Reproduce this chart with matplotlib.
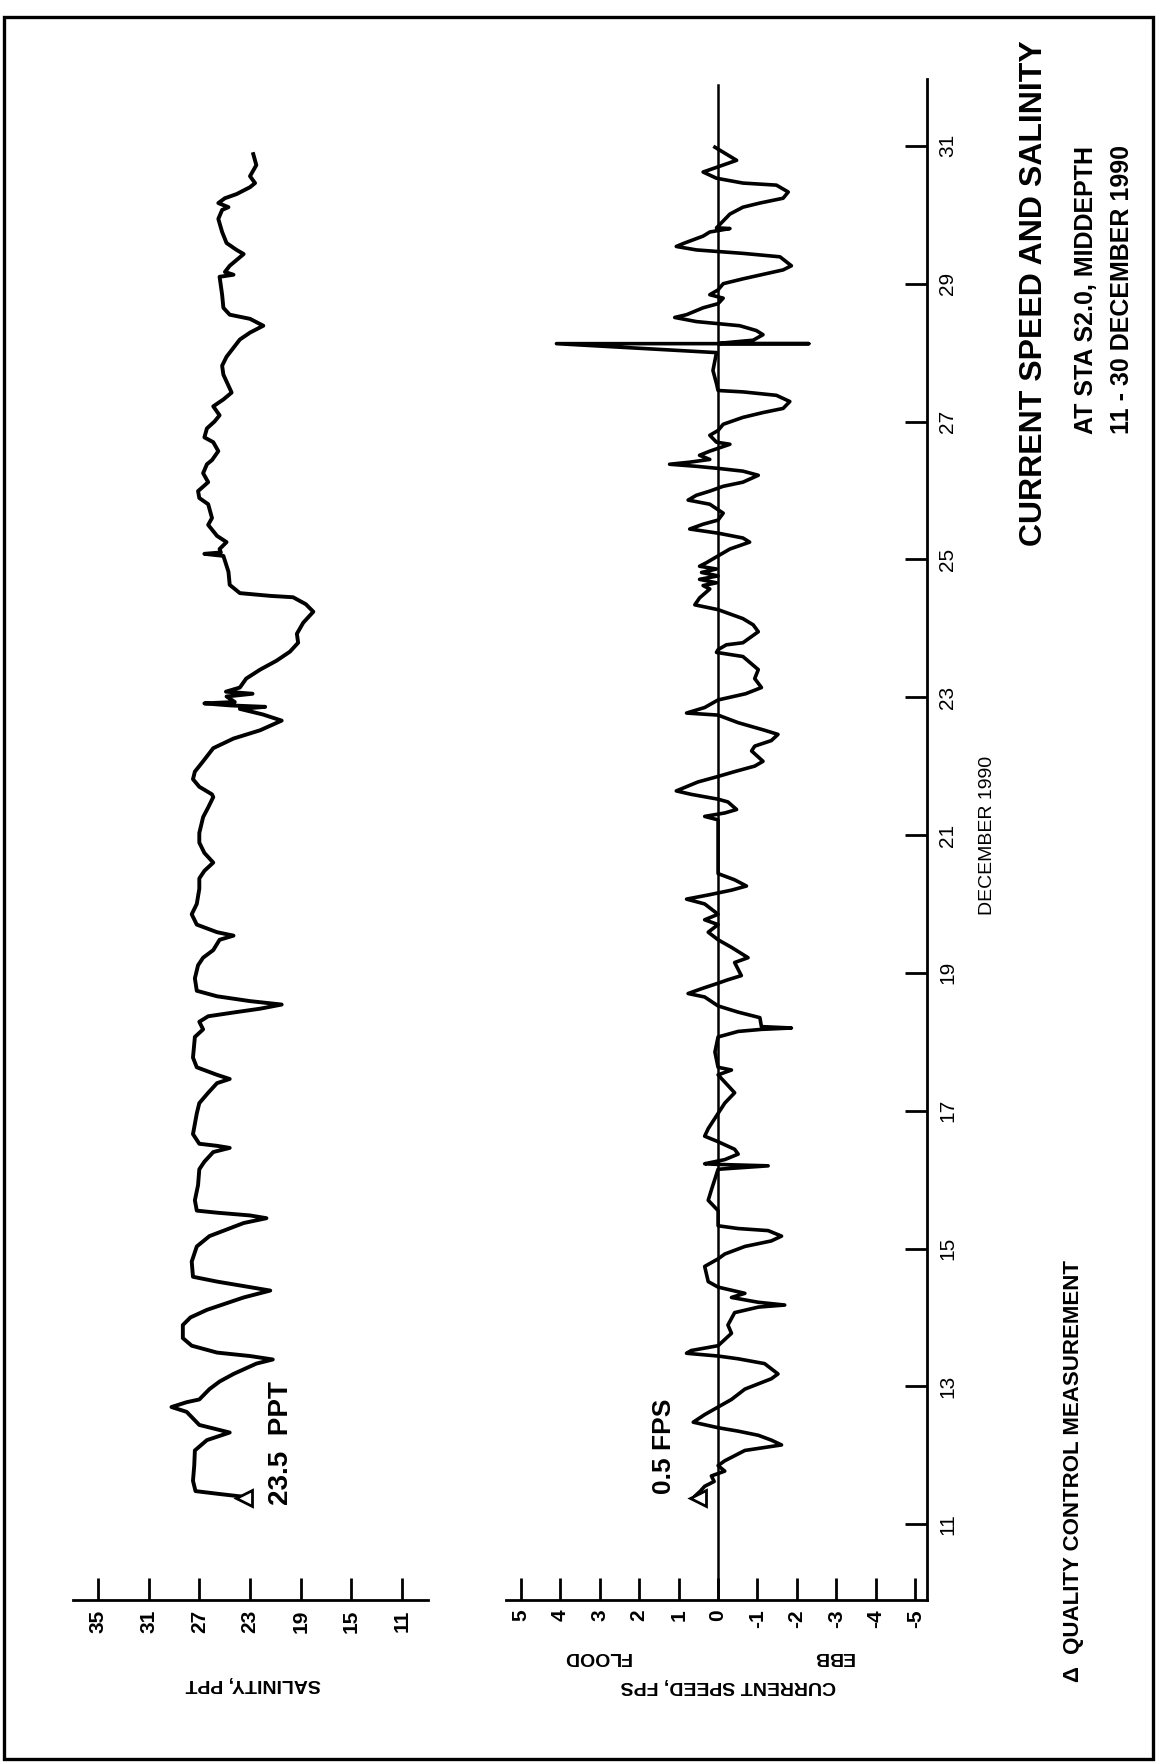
import matplotlib
matplotlib.use("Agg")
import matplotlib.pyplot as plt
from matplotlib.patches import Rectangle

# salinity trace (day of December 1990, ppt)
sal_day = [11.40, 11.44, 11.48, 11.63, 11.85, 12.07, 12.22, 12.33, 12.44, 12.63,
           12.70, 12.77, 12.81, 12.96, 13.07, 13.18, 13.33, 13.39, 13.44, 13.49,
           13.59, 13.70, 13.89, 14.00, 14.11, 14.29, 14.39, 14.44, 14.52, 14.59,
           14.81, 15.03, 15.18, 15.37, 15.44, 15.48, 15.52, 15.55, 15.70, 15.92,
           16.15, 16.26, 16.40, 16.46, 16.49, 16.52, 16.66, 16.96, 17.11, 17.26,
           17.40, 17.46, 17.52, 17.63, 17.77, 18.07, 18.18, 18.29, 18.37, 18.43,
           18.48, 18.54, 18.59, 18.66, 18.74, 18.92, 19.11, 19.22, 19.33, 19.48,
           19.54, 19.59, 19.70, 19.85, 20.00, 20.22, 20.37, 20.48, 20.60, 20.74,
           20.89, 21.03, 21.26, 21.40, 21.55, 21.59, 21.70, 21.81, 21.92, 22.07,
           22.26, 22.40, 22.52, 22.66, 22.75, 22.83, 22.86, 22.88, 22.91, 22.93,
           23.01, 23.05, 23.08, 23.14, 23.27, 23.40, 23.53, 23.66, 23.79, 23.92,
           24.08, 24.24, 24.35, 24.45, 24.47, 24.51, 24.63, 24.82, 25.05, 25.08,
           25.10, 25.15, 25.25, 25.34, 25.50, 25.60, 25.80, 25.89, 25.99, 26.12,
           26.25, 26.38, 26.44, 26.57, 26.70, 26.77, 26.90, 27.00, 27.09, 27.22,
           27.32, 27.42, 27.48, 27.68, 27.81, 27.94, 28.07, 28.19, 28.29, 28.39,
           28.49, 28.55, 28.65, 28.84, 29.10, 29.13, 29.17, 29.26, 29.43, 29.49,
           29.59, 29.75, 29.94, 30.07, 30.11, 30.17, 30.24, 30.30, 30.40, 30.46,
           30.56, 30.72, 30.88]
sal_ppt = [23.6, 25.5, 27.3, 27.5, 27.4, 27.35, 26.4, 24.6, 27.0, 28.0,
           29.2, 28.0, 27.0, 26.2, 25.4, 24.3, 22.5, 21.2, 23.0, 25.6,
           27.6, 28.3, 28.3, 27.7, 26.4, 23.5, 21.4, 23.0, 25.6, 27.5,
           27.6, 27.2, 26.2, 23.5, 21.7, 23.0, 25.6, 27.2, 27.35, 27.1,
           27.0, 26.6, 25.9, 24.6, 25.6, 27.0, 27.5, 27.2, 27.0, 26.3,
           25.6, 24.6, 25.6, 27.2, 27.5, 27.35, 26.7, 27.0, 26.3, 24.1,
           22.2, 20.5, 23.0, 25.6, 27.2, 27.35, 27.1, 26.7, 25.9, 25.4,
           24.3, 25.6, 27.2, 27.6, 27.2, 27.0, 27.0, 26.6, 25.9, 26.6,
           27.0, 27.0, 26.7, 26.3, 25.9, 26.0, 27.0, 27.5, 27.35, 26.7,
           25.9, 24.3, 22.2, 20.5, 22.0, 23.8, 21.8, 24.5, 26.6, 24.2,
           24.85, 22.8, 24.9, 23.8, 23.3, 22.2, 20.9, 19.85, 19.2, 19.3,
           18.8, 18.0, 18.6, 19.6, 21.4, 23.8, 24.6, 24.7, 25.1, 26.6,
           25.3, 25.4, 24.85, 25.6, 26.3, 26.0, 26.3, 27.0, 27.1, 26.3,
           26.7, 26.4, 26.0, 25.5, 25.9, 26.6, 26.4, 25.8, 25.4, 25.9,
           25.1, 24.45, 24.6, 25.1, 25.2, 24.85, 24.3, 23.8, 23.0, 21.95,
           23.0, 24.6, 25.1, 25.2, 25.4, 24.3, 24.98, 24.6, 23.5, 24.06,
           24.85, 25.2, 25.5, 25.2, 24.7, 25.5, 24.98, 24.06, 23.0, 22.6,
           23.0, 22.5, 22.74]

# current speed trace (day, fps; flood positive, ebb negative)
cur_day = [11.36, 11.40, 11.48, 11.55, 11.62, 11.70, 11.77, 11.85, 11.92, 12.07,
           12.15, 12.22, 12.29, 12.35, 12.40, 12.48, 12.59, 12.70, 12.81, 12.96,
           13.11, 13.18, 13.33, 13.40, 13.44, 13.48, 13.52, 13.59, 13.77, 13.89,
           14.07, 14.15, 14.18, 14.22, 14.29, 14.35, 14.44, 14.52, 14.74, 14.85,
           14.92, 15.03, 15.11, 15.18, 15.26, 15.29, 15.33, 15.55, 15.70, 15.85,
           16.15, 16.20, 16.22, 16.23, 16.29, 16.37, 16.44, 16.55, 16.63, 16.74,
           16.96, 17.11, 17.26, 17.52, 17.59, 17.63, 17.85, 18.07, 18.15, 18.18,
           18.20, 18.22, 18.35, 18.43, 18.52, 18.65, 18.70, 18.77, 18.85, 18.90,
           18.96, 19.15, 19.22, 19.37, 19.48, 19.59, 19.70, 19.77, 19.85, 20.00,
           20.07, 20.13, 20.16, 20.20, 20.26, 20.35, 20.44, 21.22, 21.27, 21.32,
           21.37, 21.48, 21.52, 21.59, 21.64, 21.77, 21.85, 21.92, 22.00, 22.07,
           22.22, 22.29, 22.37, 22.46, 22.52, 22.63, 22.74, 22.77, 22.85, 22.96,
           23.05, 23.14, 23.27, 23.40, 23.59, 23.65, 23.69, 23.76, 23.79, 23.95,
           24.05, 24.14, 24.27, 24.34, 24.44, 24.57, 24.62, 24.66, 24.71, 24.76,
           24.81, 24.86, 24.90, 24.95, 25.05, 25.15, 25.25, 25.31, 25.38, 25.44,
           25.51, 25.57, 25.67, 25.80, 25.86, 25.93, 25.99, 26.06, 26.12, 26.22,
           26.28, 26.32, 26.35, 26.38, 26.41, 26.45, 26.51, 26.57, 26.67, 26.70,
           26.80, 26.87, 26.96, 27.06, 27.13, 27.19, 27.29, 27.38, 27.43, 27.45,
           27.55, 27.74, 28.00, 28.13, 28.13, 28.13, 28.14, 28.18, 28.26, 28.32,
           28.39, 28.42, 28.45, 28.51, 28.55, 28.65, 28.71, 28.79, 28.84, 28.91,
           29.00, 29.07, 29.20, 29.26, 29.39, 29.44, 29.49, 29.54, 29.59, 29.69,
           29.75, 29.80, 29.81, 29.91, 30.01, 30.11, 30.17, 30.24, 30.33, 30.43,
           30.46, 30.53, 30.62, 30.79, 30.98]
cur_fps = [0.55, 0.60, 0.45, 0.34, 0.10, 0.17, -0.17, 0.0, -0.17, -0.68,
           -1.61, -1.35, -1.02, -0.51, 0.0, 0.63, 0.34, 0.0, -0.34, -0.68,
           -1.35, -1.52, -1.18, -0.51, 0.0, 0.80, 0.68, 0.0, -0.34, -0.25,
           -0.42, -1.02, -1.69, -1.02, -0.34, -0.68, 0.0, 0.25, 0.34, 0.0,
           -0.17, -0.68, -1.35, -1.61, -1.27, -0.51, 0.0, 0.0, 0.25, 0.17,
           0.0, -1.27, 0.0, 0.34, -0.17, -0.51, -0.42, 0.0, 0.34, 0.25,
           0.0, -0.17, -0.42, 0.0, -0.34, 0.0, 0.08, 0.0, -0.51, -1.10,
           -1.86, -1.10, -1.06, -0.51, 0.0, 0.34, 0.76, 0.42, 0.0, -0.25,
           -0.59, -0.42, -0.76, -0.34, 0.0, 0.25, 0.0, 0.34, 0.0, 0.34,
           0.80, 0.25, 0.0, -0.34, -0.72, -0.42, 0.0, 0.0, 0.34, -0.17,
           -0.47, -0.25, 0.0, 0.68, 1.06, 0.51, 0.0, -0.42, -0.93, -1.14,
           -0.85, -0.93, -1.35, -1.52, -1.18, -0.51, 0.0, 0.80, 0.34, 0.0,
           -0.70, -1.10, -0.93, -1.02, -0.63, 0.04, 0.0, -0.21, -0.63, -1.02,
           -0.89, -0.63, 0.0, 0.59, 0.47, 0.21, 0.38, 0.04, 0.47, 0.0,
           0.42, 0.04, 0.47, 0.30, 0.0, -0.30, -0.80, -0.63, 0.0, 0.72,
           0.38, 0.0, -0.13, 0.21, 0.76, 0.55, 0.21, -0.13, -0.63, -1.02,
           -0.63, 0.0, 0.55, 1.23, 0.72, 0.21, 0.47, 0.21, -0.30, 0.04,
           0.21, 0.0, -0.13, -0.63, -1.14, -1.65, -1.82, -1.48, -0.63, 0.0,
           0.04, 0.13, 0.04, 4.1, -2.3, 0.0, -0.13, -0.89, -1.14, -0.97,
           -0.55, 0.0, 0.55, 1.10, 0.80, 0.38, 0.0, -0.13, 0.21, 0.0,
           -0.13, -0.63, -1.65, -1.86, -1.57, -0.63, 0.55, 1.06, 0.85, 0.38,
           0.21, -0.30, 0.04, -0.13, -0.30, -0.63, -1.06, -1.65, -1.78, -1.48,
           -0.63, 0.04, 0.38, -0.47, 0.08]

# quality control measurements
qc_day = 11.38
qc_sal = 23.5
qc_cur = 0.5

sal_ticks = [35, 31, 27, 23, 19, 15, 11]
sal_labels = ["35", "31", "27", "23", "19", "15", "11"]
cur_ticks = [5, 4, 3, 2, 1, 0, -1, -2, -3, -4, -5]
cur_labels = ["5", "4", "3", "2", "1", "0", "-1", "-2", "-3", "-4", "-5"]
day_ticks = [11, 13, 15, 17, 19, 21, 23, 25, 27, 29, 31]
day_labels = ["11", "13", "15", "17", "19", "21", "23", "25", "27", "29", "31"]

plt.rcParams["font.family"] = ["Liberation Sans Narrow", "Liberation Sans", "DejaVu Sans"]

W, H = 1161, 1764
fig = plt.figure(figsize=(W / 100, H / 100), dpi=100)


def box(left, top, right, bottom):
    return [left / W, 1 - bottom / H, (right - left) / W, (bottom - top) / H]


def put(x, y, s, rot, size, weight="bold"):
    fig.text(x / W, 1 - y / H, s, rotation=rot, fontsize=size, fontweight=weight,
             ha="center", va="center")


ylims = (9.90, 31.97)

# salinity panel (page is turned: value runs across, time runs up)
ax_s = fig.add_axes(box(73, 79, 428, 1600))
ax_s.plot(sal_ppt, sal_day, color="black", lw=2.8, solid_joinstyle="round")
ax_s.plot(qc_sal, qc_day, marker="<", ms=11, mfc="white", mec="black", mew=2)
ax_s.set_xlim(36.97, 8.95)
ax_s.set_ylim(*ylims)
for side in ["top", "left", "right"]:
    ax_s.spines[side].set_visible(False)
ax_s.spines["bottom"].set_linewidth(2)
ax_s.set_xticks(sal_ticks)
ax_s.set_xticklabels(sal_labels, rotation=90, fontsize=15, fontweight="bold")
ax_s.tick_params(axis="x", direction="in", length=16, width=2, pad=7)
ax_s.set_yticks([])
ax_s.patch.set_visible(False)

# current speed panel
ax_c = fig.add_axes(box(506, 79, 927, 1600))
ax_c.axvline(0, ymin=0, ymax=0.996, color="black", lw=1.8)
ax_c.plot(cur_fps, cur_day, color="black", lw=2.6, solid_joinstyle="round")
ax_c.plot(qc_cur, qc_day, marker="<", ms=11, mfc="white", mec="black", mew=2)
ax_c.set_xlim(5.38, -5.30)
ax_c.set_ylim(*ylims)
for side in ["top", "left"]:
    ax_c.spines[side].set_visible(False)
ax_c.spines["bottom"].set_linewidth(2)
ax_c.spines["right"].set_linewidth(2)
ax_c.set_xticks(cur_ticks)
ax_c.set_xticklabels(cur_labels, rotation=90, fontsize=15, fontweight="bold")
ax_c.tick_params(axis="x", direction="in", length=16, width=2, pad=7)
ax_c.yaxis.tick_right()
ax_c.set_yticks(day_ticks)
ax_c.set_yticklabels(day_labels, rotation=90, fontsize=15, va="center")
ax_c.tick_params(axis="y", direction="in", length=16, width=2, pad=8)
ax_c.patch.set_visible(False)

# texts
put(253, 1684, "SALINITY, PPT", 180, 14)
put(597, 1656, "FLOOD", 180, 14)
put(833, 1656, "EBB", 180, 14)
put(728, 1685, "CURRENT SPEED, FPS", 180, 14)
put(281, 1443, "23.5  PPT", 90, 20)
put(664, 1446, "0.5 FPS", 90, 19)
put(987, 835, "DECEMBER 1990", 90, 14, weight="normal")
put(1034, 293, "CURRENT SPEED AND SALINITY", 90, 23)
put(1086, 290, "AT STA S2.0, MIDDEPTH", 90, 18)
put(1122, 290, "11 - 30 DECEMBER 1990", 90, 18)
put(1074, 1471, "\u0394  QUALITY CONTROL MEASUREMENT", 90, 16)

# page frame
fig.add_artist(Rectangle((4 / W, 1 - 1759 / H), 1149 / W, 1742 / H,
                         transform=fig.transFigure, fill=False, lw=2.4, ec="black"))

fig.savefig("out.png", dpi=100)
